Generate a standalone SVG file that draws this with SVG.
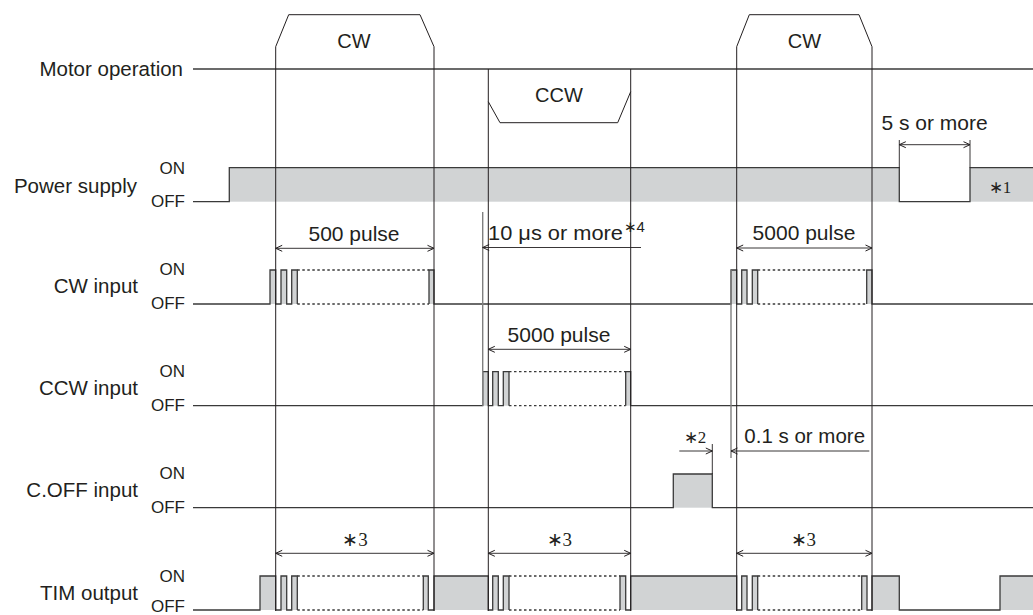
<svg xmlns="http://www.w3.org/2000/svg" width="1033" height="615" viewBox="0 0 1033 615">
<style>
text{font-family:"Liberation Sans",Arial,sans-serif;fill:#231f20}
.lbl{font-size:20.5px;text-anchor:end}
.lv{font-size:17px;text-anchor:end}
.box{font-size:20px;text-anchor:middle}
.mid{font-size:21px;text-anchor:middle}
.note{font-family:"Liberation Serif","Times New Roman",serif;font-size:19px;text-anchor:middle}
.sig{fill:none;stroke:#3a3a3a;stroke-width:1.3}
.dot{fill:none;stroke:#3a3a3a;stroke-width:1.3;stroke-dasharray:2.5 2.5}
.fill{fill:#d1d3d4;stroke:none}
.ref{fill:none;stroke:#231f20;stroke-width:1}
.gref{fill:none;stroke:#808080;stroke-width:1.4}
.dim{fill:none;stroke:#231f20;stroke-width:0.9}
.da{fill:none;stroke:#231f20;stroke-width:0.9;marker-end:url(#ah);marker-start:url(#ah)}
.de{fill:none;stroke:#231f20;stroke-width:0.9;marker-end:url(#ah)}
.ds{fill:none;stroke:#231f20;stroke-width:0.9;marker-start:url(#ah)}
</style>
<defs>
<marker id="ah" viewBox="0 0 8 8" refX="7.5" refY="4" markerWidth="8" markerHeight="8" markerUnits="userSpaceOnUse" orient="auto-start-reverse">
<path d="M1,1 L7.5,4 L1,7" fill="none" stroke="#231f20" stroke-width="1"/>
</marker>
</defs>
<rect width="1033" height="615" fill="#ffffff"/>

<g id="motor-operation">
<text class="lbl" x="183" y="76">Motor operation</text>
<path class="sig" d="M193,69 H1033"/>
<path class="ref" d="M275.7,46.7 L288.7,14.7 H420 L434,46.7"/>
<text class="box" x="354" y="48">CW</text>
<path class="ref" d="M488.3,101.7 L500,122.7 H617.7 L630.7,91.7"/>
<text class="box" x="559" y="102">CCW</text>
<path class="ref" d="M736.7,46.7 L749.3,14.7 H859 L872,46.7"/>
<text class="box" x="804.5" y="48">CW</text>
</g>

<g id="power-supply">
<text class="lbl" x="137" y="193">Power supply</text>
<text class="lv" x="185" y="174">ON</text>
<text class="lv" x="185" y="207">OFF</text>
<rect class="fill" x="229.3" y="167.7" width="670" height="34"/>
<rect class="fill" x="970" y="167.7" width="63" height="34"/>
<path class="sig" d="M193,201.7 H229.3 V167.7 H899.3 V201.7 H970 V167.7 H1033"/>
<text class="note" x="1000" y="193" style="font-size:17px">∗1</text>
</g>

<g id="cw-input">
<text class="lbl" x="138" y="293">CW input</text>
<text class="lv" x="185" y="275">ON</text>
<text class="lv" x="185" y="309">OFF</text>
<rect class="fill" x="270" y="270" width="5.7" height="34"/>
<rect class="fill" x="281" y="270" width="5.7" height="34"/>
<rect class="fill" x="291.7" y="270" width="5.6" height="34"/>
<rect class="fill" x="429" y="270" width="5" height="34"/>
<rect class="fill" x="731" y="270" width="5.7" height="34"/>
<rect class="fill" x="741.7" y="270" width="5.3" height="34"/>
<rect class="fill" x="752.3" y="270" width="5.4" height="34"/>
<rect class="fill" x="866.7" y="270" width="5.3" height="34"/>
<path class="sig" d="M193,304 H270 V270 H275.7 V304 H281 V270 H286.7 V304 H291.7 V270 H297.3 V304 M429,304 V270 H434 V304 H731 V270 H736.7 V304 H741.7 V270 H747 V304 H752.3 V270 H757.7 V304 M866.7,304 V270 H872 V304 H1033"/>
<path class="dot" d="M297.3,270 H429 M297.3,304 H429 M757.7,270 H866.7 M757.7,304 H866.7"/>
</g>

<g id="ccw-input">
<text class="lbl" x="138" y="395">CCW input</text>
<text class="lv" x="185" y="377">ON</text>
<text class="lv" x="185" y="411">OFF</text>
<rect class="fill" x="482.7" y="371.7" width="5.6" height="34"/>
<rect class="fill" x="492.7" y="371.7" width="5.6" height="34"/>
<rect class="fill" x="503.3" y="371.7" width="5.7" height="34"/>
<rect class="fill" x="625.7" y="371.7" width="5" height="34"/>
<path class="sig" d="M193,405.7 H482.7 V371.7 H488.3 V405.7 H492.7 V371.7 H498.3 V405.7 H503.3 V371.7 H509 V405.7 M625.7,405.7 V371.7 H630.7 V405.7 H1033"/>
<path class="dot" d="M509,371.7 H625.7 M509,405.7 H625.7"/>
</g>

<g id="c-off-input">
<text class="lbl" x="138" y="497">C.OFF input</text>
<text class="lv" x="185" y="479">ON</text>
<text class="lv" x="185" y="513">OFF</text>
<rect class="fill" x="673.3" y="474" width="39" height="33.7"/>
<path class="sig" d="M193,507.7 H673.3 V474 H712.3 V507.7 H1033"/>
</g>

<g id="tim-output">
<text class="lbl" x="138" y="600">TIM output</text>
<text class="lv" x="185" y="581.5">ON</text>
<text class="lv" x="185" y="612">OFF</text>
<rect class="fill" x="260" y="576" width="15.7" height="34"/>
<rect class="fill" x="281" y="576" width="5.7" height="34"/>
<rect class="fill" x="291.7" y="576" width="5.6" height="34"/>
<rect class="fill" x="423.3" y="576" width="5" height="34"/>
<rect class="fill" x="434" y="576" width="54.3" height="34"/>
<rect class="fill" x="492.7" y="576" width="5.6" height="34"/>
<rect class="fill" x="503.3" y="576" width="5.7" height="34"/>
<rect class="fill" x="620" y="576" width="5.7" height="34"/>
<rect class="fill" x="630.7" y="576" width="106" height="34"/>
<rect class="fill" x="741.7" y="576" width="5.3" height="34"/>
<rect class="fill" x="752.3" y="576" width="5.4" height="34"/>
<rect class="fill" x="861.7" y="576" width="5.3" height="34"/>
<rect class="fill" x="872" y="576" width="27.3" height="34"/>
<rect class="fill" x="1000" y="576" width="33" height="34"/>
<path class="sig" d="M193,610 H260 V576 H275.7 V610 H281 V576 H286.7 V610 H291.7 V576 H297.3 V610 M423.3,610 V576 H428.3 V610 H434 V576 H488.3 V610 H492.7 V576 H498.3 V610 H503.3 V576 H509 V610 M620,610 V576 H625.7 V610 H630.7 V576 H736.7 V610 H741.7 V576 H747 V610 H752.3 V576 H757.7 V610 M861.7,610 V576 H867 V610 H872 V576 H899.3 V610 H1000 V576 H1033"/>
<path class="dot" d="M297.3,576 H423.3 M297.3,610 H423.3 M509,576 H620 M509,610 H620 M757.7,576 H861.7 M757.7,610 H861.7"/>
</g>

<g id="connectors">
<path class="ref" d="M275.7,46.7 V611 M434,46.7 V611 M488.3,69 V611 M630.7,69 V611 M736.7,46.7 V611 M872,46.7 V611"/>
<path class="gref" d="M482.7,212 V405.7 M731,270 V458"/>
<path class="dim" d="M899.3,140 V167.7 M970,140 V167.7 M712.3,444 V474"/>
<path class="da" d="M899.3,144.7 H970"/>
<text class="mid" x="934.5" y="129.5">5 s or more</text>
<path class="da" d="M275.7,248.3 H434"/>
<text class="mid" x="354" y="241">500 pulse</text>
<path class="ds" d="M482.7,247.5 H641"/>
<text x="488" y="240" style="font-size:21px" textLength="135" lengthAdjust="spacingAndGlyphs">10 μs or more</text>
<text x="623.5" y="232" style="font-size:15px">∗4</text>
<path class="da" d="M736.7,248 H872"/>
<text class="mid" x="804" y="240">5000 pulse</text>
<path class="da" d="M488.3,349.3 H630.7"/>
<text class="mid" x="559" y="341.5">5000 pulse</text>
<path class="de" d="M679.3,451 H712.3"/>
<text class="note" x="695" y="443" style="font-size:17px">∗2</text>
<path class="ds" d="M731,451 H869.3"/>
<text x="744.3" y="443" style="font-size:20.5px">0.1 s or more</text>
<path class="da" d="M275.7,553.3 H434"/>
<text class="note" x="355" y="546">∗3</text>
<path class="da" d="M488.3,553.3 H630.7"/>
<text class="note" x="559.3" y="546">∗3</text>
<path class="da" d="M736.7,553.3 H872"/>
<text class="note" x="803.3" y="546">∗3</text>
</g>
</svg>
